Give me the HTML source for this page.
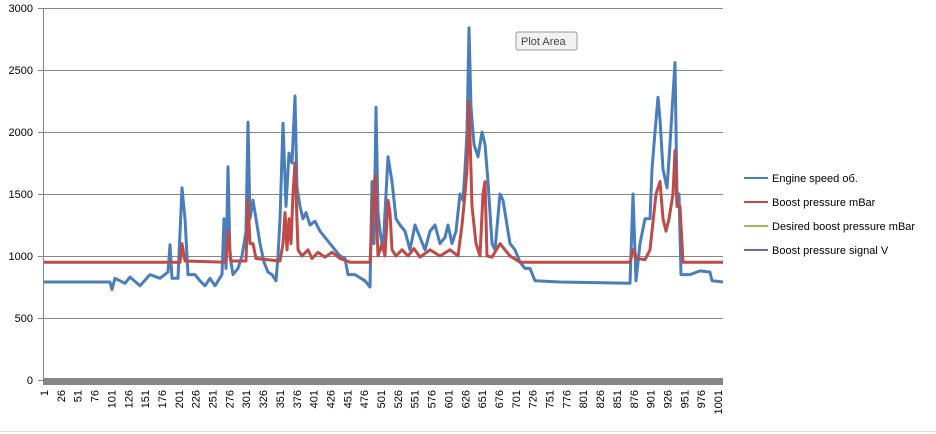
<!DOCTYPE html>
<html><head><style>body{margin:0;background:#fff}svg{display:block}</style></head><body>
<svg width="936" height="434" viewBox="0 0 936 434" font-family="Liberation Sans, sans-serif" font-size="11">
<rect width="936" height="434" fill="#fff"/>
<g stroke="#868686" stroke-width="1">
<line x1="43" y1="8.5" x2="723" y2="8.5"/>
<line x1="43" y1="70.5" x2="723" y2="70.5"/>
<line x1="43" y1="132.5" x2="723" y2="132.5"/>
<line x1="43" y1="194.5" x2="723" y2="194.5"/>
<line x1="43" y1="256.5" x2="723" y2="256.5"/>
<line x1="43" y1="318.5" x2="723" y2="318.5"/>
<line x1="43.5" y1="8" x2="43.5" y2="380"/>
<line x1="38" y1="8.5" x2="43" y2="8.5"/><line x1="38" y1="70.5" x2="43" y2="70.5"/><line x1="38" y1="132.5" x2="43" y2="132.5"/><line x1="38" y1="194.5" x2="43" y2="194.5"/><line x1="38" y1="256.5" x2="43" y2="256.5"/><line x1="38" y1="318.5" x2="43" y2="318.5"/><line x1="38" y1="380.5" x2="43" y2="380.5"/>
</g>
<rect x="43" y="378" width="680" height="7" fill="#878387"/>
<g text-anchor="end" fill="#000">
<text x="33" y="12">3000</text><text x="33" y="74">2500</text><text x="33" y="136">2000</text><text x="33" y="198">1500</text><text x="33" y="260">1000</text><text x="33" y="322">500</text><text x="33" y="384">0</text>
</g>
<g id="ticks" text-anchor="end" fill="#000"></g>
<polyline fill="none" stroke="#4a7ebb" stroke-width="3" stroke-linejoin="round" id="eng"/>
<polyline fill="none" stroke="#be4b48" stroke-width="3" stroke-linejoin="round" id="bst"/>
<rect x="516" y="32" width="61" height="18" rx="2" fill="#f2f2f2" stroke="#999"/>
<text x="521" y="45" fill="#444">Plot Area</text>
<g font-size="11">
<line x1="744" y1="178" x2="768" y2="178" stroke="#4a7ebb" stroke-width="2"/><text x="772" y="182">Engine speed об.</text>
<line x1="744" y1="202" x2="768" y2="202" stroke="#be4b48" stroke-width="2"/><text x="772" y="206">Boost pressure mBar</text>
<line x1="744" y1="226" x2="768" y2="226" stroke="#98b954" stroke-width="2"/><text x="772" y="230">Desired boost pressure mBar</text>
<line x1="744" y1="250" x2="768" y2="250" stroke="#7d60a0" stroke-width="2"/><text x="772" y="254">Boost pressure signal  V</text>
</g>
<line x1="0" y1="431.5" x2="936" y2="431.5" stroke="#ddd"/>
</svg>
<script>
var e=[44,790,110,790,112,730,115,820,125,780,130,830,140,760,150,850,160,820,168,870,170,1090,172,820,178,820,182,1550,185,1300,188,850,195,850,200,800,205,760,210,820,215,760,222,850,224,1300,226,900,228,1720,230,1000,233,850,238,900,242,1000,246,1200,248,2080,250,1300,253,1450,256,1300,260,1100,264,950,268,870,272,850,276,800,278,1000,280,1300,283,2070,286,1400,289,1830,292,1750,295,2290,297,1550,300,1400,303,1300,306,1350,310,1250,315,1280,320,1200,325,1150,330,1100,335,1050,340,1000,345,980,348,850,355,850,365,800,370,750,372,1600,374,1100,376,2200,378,1350,380,1200,383,1050,388,1800,392,1600,396,1300,400,1250,405,1200,410,1050,415,1250,420,1150,425,1050,430,1200,435,1250,440,1100,445,1150,448,1250,452,1100,456,1200,460,1500,463,1450,465,1700,467,2000,469,2840,471,2200,474,1900,478,1800,482,2000,485,1900,488,1600,492,1100,495,1050,500,1500,503,1450,506,1300,510,1100,515,1050,520,950,525,900,530,900,535,800,560,790,630,780,633,1500,636,800,640,1100,645,1300,650,1300,652,1700,655,2000,658,2280,660,2100,663,1700,667,1550,670,1900,673,2300,675,2560,677,1500,679,1500,681,850,690,850,700,880,710,870,712,800,723,790];
var b=[44,950,180,950,182,1100,185,960,226,950,228,1200,231,960,246,960,248,1450,250,1100,253,1100,256,980,280,960,283,1100,285,1350,287,1050,289,1300,291,1100,293,1500,295,1750,298,1050,302,1000,308,1050,312,980,318,1030,325,990,332,1030,340,980,350,950,370,950,373,1450,375,1650,378,1000,382,1100,385,1000,388,1450,390,1350,392,1050,396,1000,402,1050,408,1000,414,1060,420,990,430,1050,440,1000,450,1050,458,1000,462,1250,465,1500,467,1700,469,2250,472,1400,476,1100,480,1000,483,1500,485,1600,487,1000,492,990,500,1100,505,1050,510,1000,520,950,630,950,633,1050,637,980,645,970,650,1050,652,1200,656,1500,660,1600,663,1300,666,1200,669,1300,673,1500,675,1850,677,1400,680,1400,683,950,723,950];
function p(a){var s=[];for(var i=0;i<a.length;i+=2)s.push(a[i]+','+(380-a[i+1]*0.124).toFixed(1));return s.join(' ');}
document.getElementById('eng').setAttribute('points',p(e));
document.getElementById('bst').setAttribute('points',p(b));
var g=document.getElementById('ticks'),h='';
for(var i=1;i<=1001;i+=25){var x=44+(i-1)*0.674+4;h+='<text transform="translate('+x.toFixed(1)+',390) rotate(-90)">'+i+'</text>';}
g.innerHTML=h;
</script>
</body></html>
